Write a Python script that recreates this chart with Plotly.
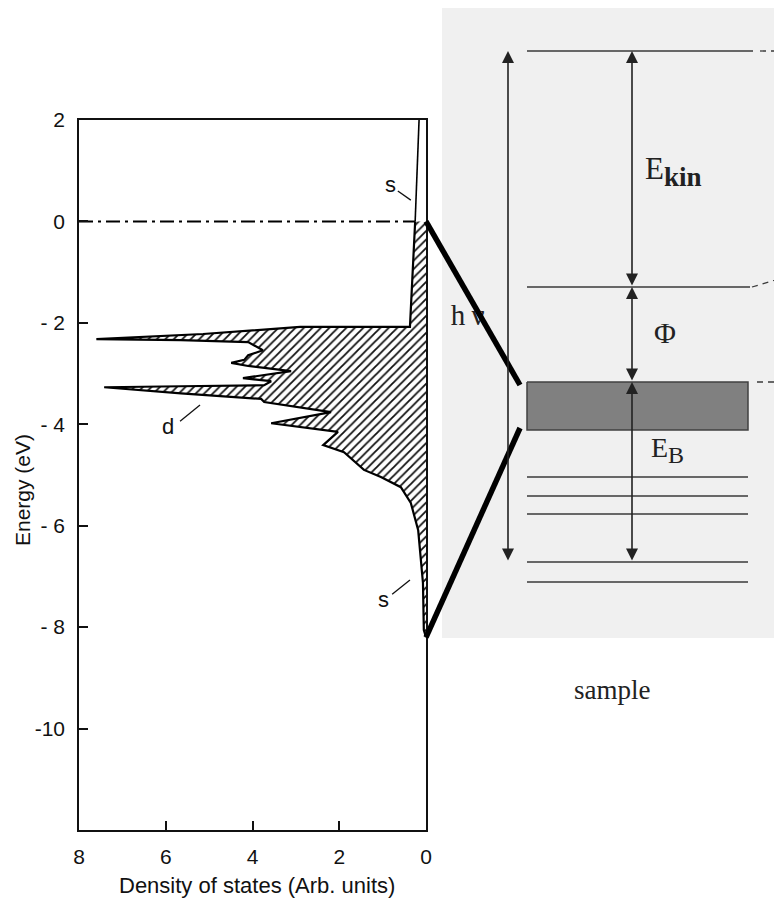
import plotly.graph_objects as go

# ---------------- data: density of states ----------------
# s-band above the Fermi level (unoccupied, not hatched)
dos_unocc = [0.16, 0.25]
e_unocc = [2.0, 0.0]

# occupied states from E_F down to band bottom (hatched)
e_occ = [0.0, -2.08, -2.08, -2.22, -2.32, -2.34, -2.38, -2.54, -2.64, -2.73, -2.79,
         -2.85, -2.95, -3.09, -3.15, -3.23, -3.25, -3.27, -3.39, -3.50, -3.56, -3.76,
         -3.98, -4.15, -4.41, -4.55, -4.90, -5.04, -5.24, -5.55, -6.09, -6.62, -7.13,
         -8.06, -8.20]
dos_occ = [0.25, 0.37, 2.90, 5.14, 7.60, 5.65, 4.10, 3.76, 4.10, 4.19, 4.49,
           4.10, 3.11, 4.22, 3.57, 3.73, 5.65, 7.42, 5.65, 3.80, 3.73, 2.19,
           3.57, 2.03, 2.37, 1.89, 1.43, 1.04, 0.58, 0.35, 0.18, 0.12, 0.07,
           0.05, 0.0]

x_ticks = [8, 6, 4, 2, 0]
y_ticks = [2, 0, -2, -4, -6, -8, -10]
y_ticktext = ["2", "0", "- 2", "- 4", "- 6", "- 8", "-10"]

# ---------------- data: energy-level diagram (schematic units, E_F = 0) ----------------
level_photo = 16.55
level_vac = 4.75
band_top = 0.0
band_bottom = -2.4
core_levels = [-4.75, -5.7, -6.6, -9.0, -10.0]
core_ref = -9.0          # core level used for E_B and hν arrows
level_x = [85, 306]      # horizontal extent of levels
top_x = [85, 311]
arrow_hv_x = 66
arrow_e_x = 190

# ---------------- layout geometry (page has an 8 px body margin) ----------------
W, H = 782, 907
OFF = 8


def fx(sx):
    return (sx - OFF) / W


def fy(sy):
    return 1 - (sy - OFF) / H


xd = [fx(79), fx(426)]
yd = [fy(830), fy(120)]
xr = [8, 0]
yr = [-12, 2]
x2d = [fx(442), 1.0]
y2d = [fy(638), 1.0]
x2r = [0, W + OFF - 442]
y2r = [(382 - 638) / 20, (382 - OFF) / 20]


def px1(d):
    return xd[0] + (d - xr[0]) / (xr[1] - xr[0]) * (xd[1] - xd[0])


def py1(e):
    return yd[0] + (e - yr[0]) / (yr[1] - yr[0]) * (yd[1] - yd[0])


def px2(u):
    return x2d[0] + (u - x2r[0]) / (x2r[1] - x2r[0]) * (x2d[1] - x2d[0])


def py2(v):
    return y2d[0] + (v - y2r[0]) / (y2r[1] - y2r[0]) * (y2d[1] - y2d[0])


fig = go.Figure()

# gray background of diagram
fig.add_shape(type="rect", xref="x2 domain", yref="y2 domain", x0=0, x1=1, y0=0, y1=1,
              fillcolor="#f0f0f0", line=dict(width=0), layer="below")

# DOS: hatched occupied part
fig.add_trace(go.Scatter(
    x=dos_occ, y=e_occ, mode="lines", fill="tozerox",
    fillcolor="white",
    fillpattern=dict(shape="/", fgcolor="#111", bgcolor="white", size=6, solidity=0.3),
    line=dict(color="black", width=2.2), showlegend=False, hoverinfo="skip",
    xaxis="x", yaxis="y"))
# unoccupied s-band
fig.add_trace(go.Scatter(
    x=dos_unocc, y=e_unocc, mode="lines", line=dict(color="black", width=1.6),
    showlegend=False, hoverinfo="skip", xaxis="x", yaxis="y"))
# Fermi level dash-dot
fig.add_trace(go.Scatter(
    x=[xr[0], dos_unocc[-1]], y=[0, 0], mode="lines",
    line=dict(color="black", width=2, dash="14px,5px,3px,5px"),
    showlegend=False, hoverinfo="skip", xaxis="x", yaxis="y"))

# ---------------- diagram ----------------
line_col = "#3a3a3a"
# band rectangle
fig.add_trace(go.Scatter(
    x=[level_x[0], level_x[1], level_x[1], level_x[0], level_x[0]],
    y=[band_top, band_top, band_bottom, band_bottom, band_top],
    mode="lines", fill="toself", fillcolor="#808080",
    line=dict(color="#404040", width=1.5), showlegend=False, hoverinfo="skip",
    xaxis="x2", yaxis="y2"))
# photoelectron level and vacuum level
fig.add_trace(go.Scatter(x=top_x, y=[level_photo, level_photo], mode="lines",
                         line=dict(color=line_col, width=1.5), showlegend=False,
                         hoverinfo="skip", xaxis="x2", yaxis="y2"))
fig.add_trace(go.Scatter(x=[level_x[0], level_x[1] + 2], y=[level_vac, level_vac], mode="lines",
                         line=dict(color=line_col, width=1.5), showlegend=False,
                         hoverinfo="skip", xaxis="x2", yaxis="y2"))
# core levels
for cl in core_levels:
    fig.add_trace(go.Scatter(x=level_x, y=[cl, cl], mode="lines",
                             line=dict(color=line_col, width=1.5), showlegend=False,
                             hoverinfo="skip", xaxis="x2", yaxis="y2"))
# dashed continuations at the right edge
fig.add_trace(go.Scatter(x=[top_x[1] + 7, 340], y=[level_photo, level_photo], mode="lines",
                         line=dict(color=line_col, width=1.3, dash="6px,5px"), showlegend=False,
                         hoverinfo="skip", xaxis="x2", yaxis="y2"))
fig.add_trace(go.Scatter(x=[level_x[1] + 4, 340], y=[level_vac, level_vac + 0.45], mode="lines",
                         line=dict(color=line_col, width=1.3, dash="6px,5px"), showlegend=False,
                         hoverinfo="skip", xaxis="x2", yaxis="y2"))
fig.add_trace(go.Scatter(x=[level_x[1] + 9, 340], y=[band_top, band_top], mode="lines",
                         line=dict(color=line_col, width=1.3, dash="6px,5px"), showlegend=False,
                         hoverinfo="skip", xaxis="x2", yaxis="y2"))
# "hν" label (ν partly hidden under the thick line)
fig.add_trace(go.Scatter(x=[16, 36], y=[3.2, 3.2], mode="text", text=["h", "ν"],
                         textfont=dict(family="Liberation Serif", size=29, color="#222"),
                         showlegend=False, hoverinfo="skip", xaxis="x2", yaxis="y2"))

annotations = []
# arrows
arrow_specs = [
    (arrow_hv_x, core_ref, level_photo),
    (arrow_e_x, level_vac, level_photo),
    (arrow_e_x, band_top, level_vac),
    (arrow_e_x, core_ref, band_top),
]
for ax_x, y_from, y_to in arrow_specs:
    annotations.append(dict(
        x=ax_x, y=y_to, ax=ax_x, ay=y_from, xref="x2", yref="y2", axref="x2", ayref="y2",
        text="", showarrow=True, arrowhead=2, arrowside="end+start", arrowsize=1.5,
        arrowwidth=1.6, arrowcolor="#222", standoff=0, startstandoff=0))

serif = "Liberation Serif"
annotations += [
    dict(x=arrow_e_x + 41, y=(level_photo + level_vac) / 2 - 0.1, xref="x2", yref="y2",
         text="E<sub><span style='font-size:27px'><b>kin</b></span></sub>",
         showarrow=False, xanchor="center", yanchor="middle",
         font=dict(family=serif, size=31, color="#222")),
    dict(x=arrow_e_x + 33, y=(level_vac + band_top) / 2 + 0.1, xref="x2", yref="y2",
         text="Φ", showarrow=False, xanchor="center", yanchor="middle",
         font=dict(family=serif, size=30, color="#222")),
    dict(x=arrow_e_x + 35, y=band_bottom - 1.0, xref="x2", yref="y2",
         text="E<sub><span style='font-size:24px'>B</span></sub>", showarrow=False,
         xanchor="center", yanchor="middle",
         font=dict(family=serif, size=28, color="#222")),
    dict(x=fx(612), y=fy(690), xref="paper", yref="paper", text="sample",
         showarrow=False, xanchor="center", yanchor="middle",
         font=dict(family=serif, size=27, color="#222")),
]

sans = "Liberation Sans"
# DOS labels
annotations += [
    dict(x=0.83, y=0.72, xref="x", yref="y", text="s", showarrow=False,
         xanchor="center", yanchor="middle", font=dict(family=sans, size=22, color="#111")),
    dict(x=5.95, y=-4.05, xref="x", yref="y", text="d", showarrow=False,
         xanchor="center", yanchor="middle", font=dict(family=sans, size=22, color="#111")),
    dict(x=0.99, y=-7.45, xref="x", yref="y", text="s", showarrow=False,
         xanchor="center", yanchor="middle", font=dict(family=sans, size=22, color="#111")),
    # axis titles
    dict(x=fx(257), y=fy(885), xref="paper", yref="paper",
         text="Density of states (Arb. units)", showarrow=False,
         xanchor="center", yanchor="middle",
         font=dict(family=sans, size=22, color="#111")),
    dict(x=fx(22), y=fy(490), xref="paper", yref="paper", text="Energy (eV)",
         textangle=-90, showarrow=False, xanchor="center", yanchor="middle",
         font=dict(family=sans, size=21, color="#111")),
]

shapes = []
# leader lines
for (x0, y0, x1, y1) in [(0.65, 0.60, 0.35, 0.42), (5.67, -3.94, 5.21, -3.62),
                         (0.78, -7.35, 0.37, -7.07)]:
    shapes.append(dict(type="line", xref="x", yref="y", x0=x0, y0=y0, x1=x1, y1=y1,
                       line=dict(color="#111", width=1.3)))
# thick connecting lines: Fermi level -> band top, band bottom -> DOS bottom
shapes.append(dict(type="line", xref="paper", yref="paper",
                   x0=px1(0), y0=py1(0), x1=px2(78), y1=py2(band_top - 0.15),
                   line=dict(color="black", width=5.5), layer="above"))
shapes.append(dict(type="line", xref="paper", yref="paper",
                   x0=px2(78), y0=py2(band_bottom + 0.1), x1=px1(0), y1=py1(e_occ[-1]),
                   line=dict(color="black", width=5.5), layer="above"))

fig.update_layout(
    width=W, height=H, margin=dict(l=0, r=0, t=0, b=0, pad=0, autoexpand=False),
    template="none",
    paper_bgcolor="white", plot_bgcolor="white",
    showlegend=False,
    shapes=fig.layout.shapes + tuple(shapes),
    annotations=annotations,
    xaxis=dict(domain=xd, range=xr, tickvals=x_ticks, ticks="inside", ticklen=9,
               tickwidth=1.5, tickcolor="#111", showline=True, linecolor="#111",
               linewidth=1.5, mirror=True, showgrid=False, zeroline=False,
               automargin=False,
               tickfont=dict(family=sans, size=21, color="#111"), ticklabelstandoff=7,
               anchor="y"),
    yaxis=dict(domain=yd, range=yr, tickvals=y_ticks, ticktext=y_ticktext, ticks="inside",
               ticklen=9, tickwidth=1.5, tickcolor="#111", showline=True, linecolor="#111",
               linewidth=1.5, mirror=True, showgrid=False, zeroline=False,
               automargin=False,
               tickfont=dict(family=sans, size=21, color="#111"), ticklabelstandoff=8,
               anchor="x"),
    xaxis2=dict(domain=x2d, range=x2r, visible=False, anchor="y2", automargin=False),
    yaxis2=dict(domain=y2d, range=y2r, visible=False, anchor="x2", automargin=False),
)

fig.write_html("out.html")
